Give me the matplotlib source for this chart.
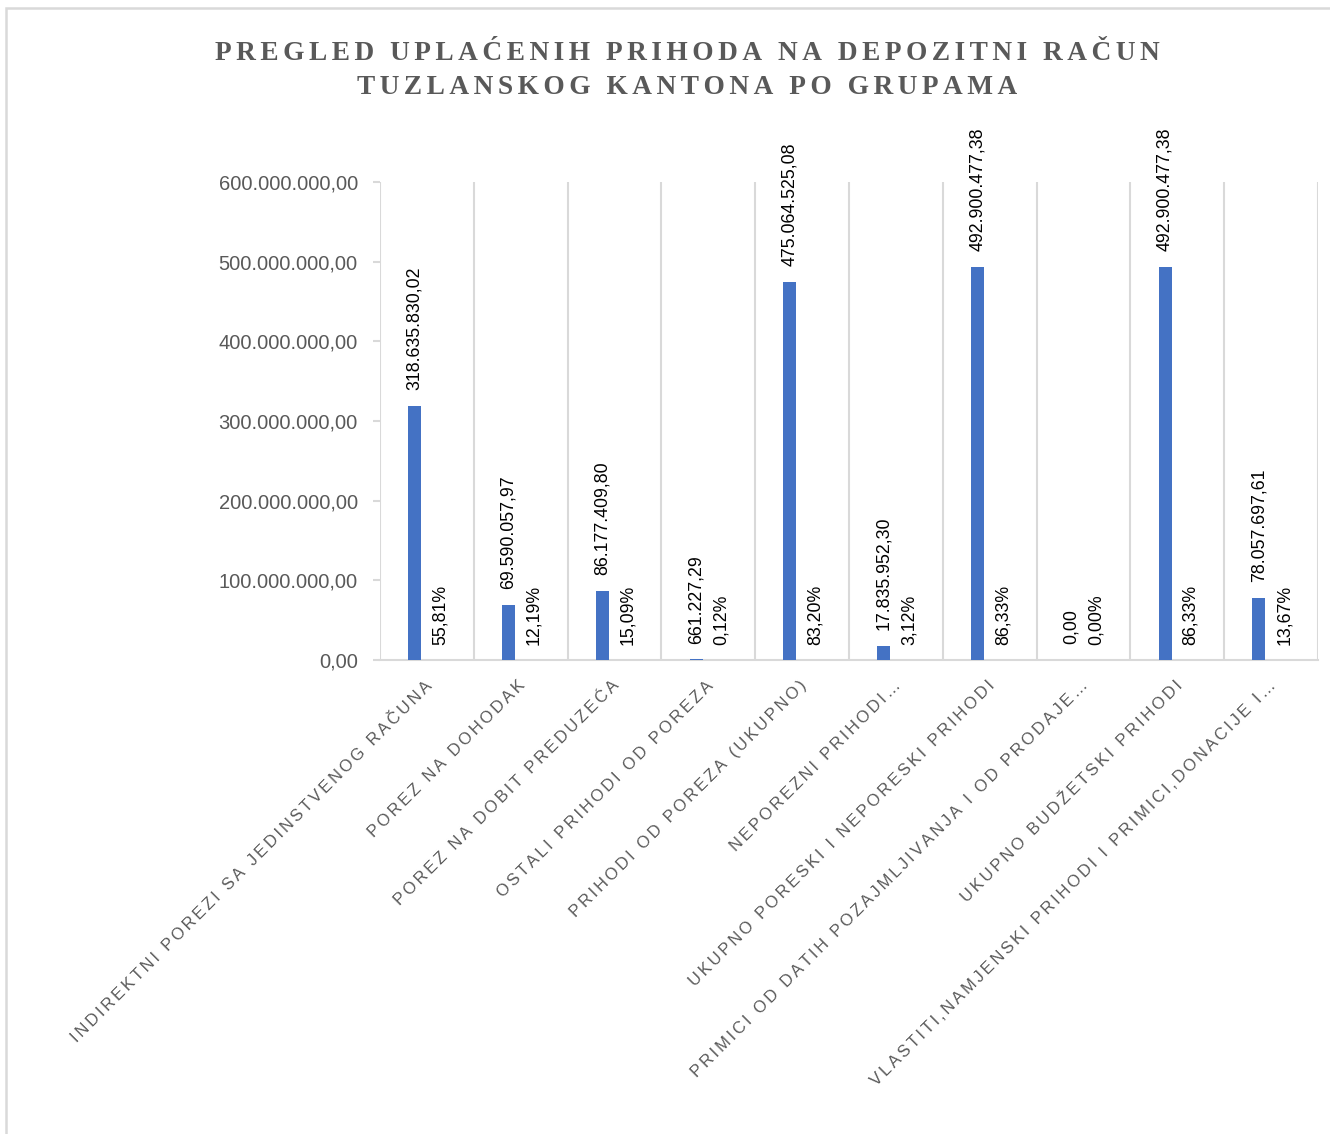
import matplotlib
matplotlib.use("Agg")
import matplotlib.pyplot as plt
from matplotlib.patches import Rectangle

categories = [
    "INDIREKTNI POREZI SA JEDINSTVENOG RAČUNA",
    "POREZ NA DOHODAK",
    "POREZ NA DOBIT PREDUZEĆA",
    "OSTALI PRIHODI OD POREZA",
    "PRIHODI OD POREZA (UKUPNO)",
    "NEPOREZNI PRIHODI…",
    "UKUPNO PORESKI I NEPORESKI PRIHODI",
    "PRIMICI OD DATIH POZAJMLJIVANJA I OD PRODAJE…",
    "UKUPNO BUDŽETSKI PRIHODI",
    "VLASTITI,NAMJENSKI PRIHODI I PRIMICI,DONACIJE I…",
]
amounts = [318635830.02, 69590057.97, 86177409.80, 661227.29, 475064525.08,
           17835952.30, 492900477.38, 0.00, 492900477.38, 78057697.61]
shares = [0.5581, 0.1219, 0.1509, 0.0012, 0.8320,
          0.0312, 0.8633, 0.0000, 0.8633, 0.1367]
y_ticks = [0, 100000000, 200000000, 300000000, 400000000, 500000000, 600000000]

plt.rcParams['font.family'] = ['Liberation Sans', 'DejaVu Sans']

blue = '#4472C4'
grid_col = '#d9d9d9'
text_col = '#595959'


def fmt_num(v):
    s = f"{v:,.2f}"
    return s.replace(',', 'X').replace('.', ',').replace('X', '.')


def fmt_pct(v):
    return f"{v * 100:.2f}%".replace('.', ',')


def spaced(s, gap='\u2006'):
    return gap.join(s)


fig = plt.figure(figsize=(13.3, 11.34), dpi=100)
ax = fig.add_axes([380 / 1330, 1 - 660 / 1134, 938 / 1330, 478 / 1134])

x = list(range(len(categories)))
xa = [i - 0.13 for i in x]
xb = [i + 0.14 for i in x]
ax.bar(xa, amounts, width=0.14, color=blue, zorder=3)
ax.bar(xb, shares, width=0.14, color='#ED7D31', zorder=3)

for i in x:
    ax.annotate(fmt_num(amounts[i]), xy=(xa[i], amounts[i]), xytext=(0, 11.5),
                textcoords='offset points', rotation=90, ha='center', va='bottom',
                fontsize=12.8, color='black')
    ax.annotate(fmt_pct(shares[i]), xy=(xb[i], shares[i]), xytext=(0, 10.8),
                textcoords='offset points', rotation=90, ha='center', va='bottom',
                fontsize=12.8, color='black')

for b in range(len(categories) + 1):
    ax.axvline(b - 0.5, color=grid_col, lw=1.5, zorder=1)

ax.set_xlim(-0.5, len(categories) - 0.5)
ax.set_ylim(0, 600000000)
ax.set_yticks(y_ticks)
ax.set_yticklabels([fmt_num(v) for v in y_ticks], fontsize=14.5, color=text_col)
ax.tick_params(axis='y', length=5, width=1.5, color=grid_col, pad=11)
ax.set_xticks([])
for side in ['top', 'right', 'left']:
    ax.spines[side].set_visible(False)
ax.spines['bottom'].set_color(grid_col)
ax.spines['bottom'].set_linewidth(1.5)

for i, name in enumerate(categories):
    ax.annotate(spaced(name), xy=(i, 0), xycoords=('data', 'axes fraction'),
                xytext=(-2, -13), textcoords='offset points', rotation=45,
                rotation_mode='anchor', ha='right', va='top',
                fontsize=12, color=text_col)

title_font = ['Liberation Serif', 'DejaVu Serif']
fig.text(0.517, 1 - 53 / 1134, spaced("PREGLED UPLAĆENIH PRIHODA NA DEPOZITNI RAČUN"),
         ha='center', va='center', fontsize=19.7, fontweight='bold',
         color=text_col, family=title_font)
fig.text(0.517, 1 - 88 / 1134, spaced("TUZLANSKOG KANTONA PO GRUPAMA"),
         ha='center', va='center', fontsize=19.7, fontweight='bold',
         color=text_col, family=title_font)

fig.patches.append(Rectangle((6 / 1330, -0.1), 1.2, 1.1 - 8 / 1134,
                             transform=fig.transFigure, fill=False,
                             edgecolor=grid_col, lw=1.8))

fig.savefig('out.png', dpi=100)
